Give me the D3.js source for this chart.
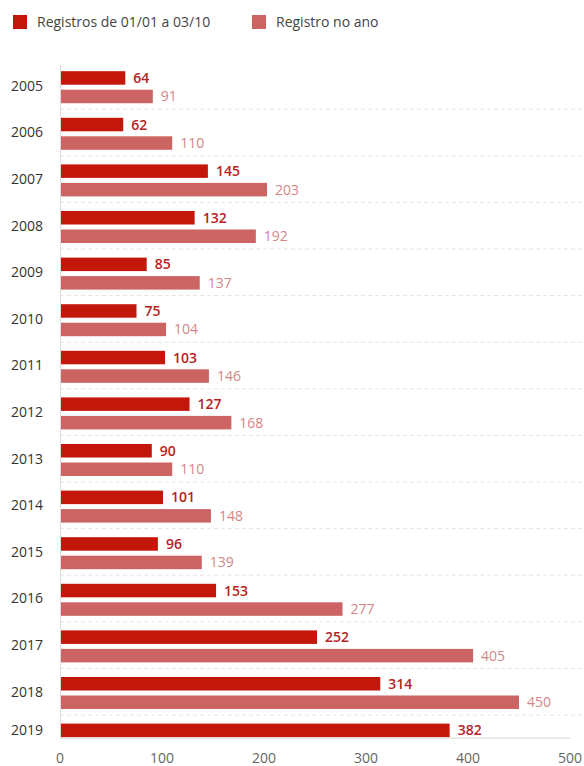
<!DOCTYPE html>
<html>
<head>
	<meta charset="utf-8">
	<title>Registros</title>
	<script src="https://cdn.jsdelivr.net/npm/d3@7/dist/d3.min.js"></script>
	<style>
		body{ margin:0; background:#fff; }
		svg{ display:block; font-family:"Open Sans", sans-serif; }
	</style>
</head>
<body>
<div class="paint"></div>
<script>
	// data
	var years = ['2005','2006','2007','2008','2009','2010','2011','2012','2013','2014','2015','2016','2017','2018','2019'];
	var ateOutubro = [64, 62, 145, 132, 85, 75, 103, 127, 90, 101, 96, 153, 252, 314, 382];
	var noAno = [91, 110, 203, 192, 137, 104, 146, 168, 110, 148, 139, 277, 405, 450, null];
	var seriesNames = ['Registros de 01/01 a 03/10', 'Registro no ano'];
	var xTicks = [0, 100, 200, 300, 400, 500];

	var colors = ['#c4170c', '#cc6464'];
	var labelColors = ['#b5231d', '#d48585'];

	var W = 584, H = 766;
	var svg = d3.select('.paint').append('svg').attr('width', W).attr('height', H);

	var x = d3.scaleLinear().domain([0, 500]).range([60, 570]);
	var y = d3.scaleBand().domain(years).range([62.6, 62.6 + 46.6*15]);
	var barH = 13.5, gap = 5, padTop = 8.6;
	var bottom = y('2019') + padTop + barH + 1;

	// dashed separators
	svg.selectAll('line.sep').data(years.slice(0, -1)).enter().append('line')
		.attr('class', 'sep')
		.attr('x1', 60).attr('x2', W)
		.attr('y1', function(d){ return y(d) + y.bandwidth(); })
		.attr('y2', function(d){ return y(d) + y.bandwidth(); })
		.attr('stroke', '#e4e4e4').attr('stroke-width', 1)
		.attr('stroke-dasharray', '4,3');

	// axes lines
	svg.append('line').attr('x1', 60.5).attr('x2', 60.5).attr('y1', 65).attr('y2', bottom)
		.attr('stroke', '#dcdcdc');
	svg.append('line').attr('x1', 60).attr('x2', 570).attr('y1', bottom).attr('y2', bottom)
		.attr('stroke', '#d6d6d6');

	var rows = years.map(function(d, i){ return {year:d, a:ateOutubro[i], b:noAno[i]}; });
	var g = svg.selectAll('g.row').data(rows).enter().append('g').attr('class', 'row')
		.attr('transform', function(d){ return 'translate(0,' + (y(d.year) + padTop) + ')'; });

	[0, 1].forEach(function(s){
		var key = s === 0 ? 'a' : 'b';
		var sel = g.filter(function(d){ return d[key] != null; });
		sel.append('rect')
			.attr('x', x(0) + 1)
			.attr('y', s*(barH + gap))
			.attr('width', function(d){ return x(d[key]) - x(0) - 1; })
			.attr('height', barH)
			.attr('fill', colors[s]);
		sel.append('text')
			.attr('x', function(d){ return x(d[key]) + 8; })
			.attr('y', s*(barH + gap) + barH/2)
			.attr('dy', '0.36em')
			.attr('fill', labelColors[s])
			.style('font-size', '14px')
			.style('font-weight', s === 0 ? 600 : 400)
			.text(function(d){ return d[key]; });
	});

	g.append('text')
		.attr('x', 43)
		.attr('y', function(d){ return d.b == null ? barH/2 : barH + gap/2 - 1.5; })
		.attr('dy', '0.36em')
		.attr('text-anchor', 'end')
		.attr('fill', '#333')
		.style('font-size', '14px')
		.text(function(d){ return d.year; });

	// x tick labels
	svg.selectAll('text.tick').data(xTicks).enter().append('text')
		.attr('class', 'tick')
		.attr('x', function(d){ return x(d); })
		.attr('y', 758)
		.attr('dy', '0.36em')
		.attr('text-anchor', 'middle')
		.attr('fill', '#666')
		.style('font-size', '14px')
		.text(function(d){ return d; });

	// legend
	var legX = [13, 252];
	var leg = svg.selectAll('g.leg').data(seriesNames).enter().append('g').attr('class', 'leg')
		.attr('transform', function(d, i){ return 'translate(' + legX[i] + ',15)'; });
	leg.append('rect').attr('width', 14).attr('height', 14)
		.attr('fill', function(d, i){ return colors[i]; });
	leg.append('text').attr('x', 24).attr('y', 7).attr('dy', '0.36em')
		.attr('fill', '#444').style('font-size', '14px')
		.text(function(d){ return d; });
</script>
</body>
</html>
